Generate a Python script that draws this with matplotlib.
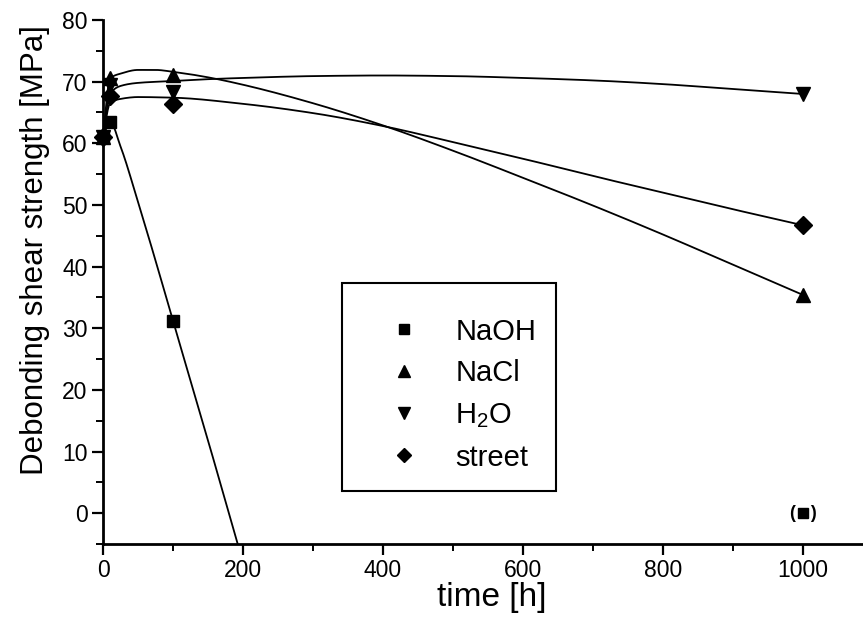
import numpy as np
import matplotlib
matplotlib.use("Agg")
import matplotlib.pyplot as plt
from matplotlib.patches import Rectangle

plt.rcParams['font.family'] = ['Liberation Sans', 'DejaVu Sans']
plt.rcParams['mathtext.fontset'] = 'custom'
plt.rcParams['mathtext.rm'] = 'Liberation Sans'
plt.rcParams['mathtext.it'] = 'Liberation Sans:italic'

# ---- measured data (markers) ----
time_h = [0, 10, 100, 1000]
naoh = [61.0, 63.5, 31.2, 0.0]      # value at 1000 h shown in parentheses
nacl = [61.0, 70.6, 71.1, 35.4]
h2o = [61.0, 69.4, 68.4, 68.0]
street = [61.0, 67.6, 66.3, 46.7]

labels = ['NaOH', 'NaCl', 'H$_2$O', 'street']
markers = ['s', '^', 'v', 'D']

# ---- smooth curves ----
naoh_curve_t = [0, 10, 25, 50, 75, 100, 150, 200]
naoh_curve_v = [61.0, 63.5, 59.5, 50.5, 41.0, 31.2, 11.8, -8.0]
nacl_curve_t = [0, 10, 25, 50, 75, 100, 150, 200, 300, 400, 500, 600, 700, 800, 900, 1000]
nacl_curve_v = [61.0, 70.5, 71.3, 71.9, 71.9, 71.6, 70.7, 69.5, 66.5, 62.9, 58.8, 54.4, 49.9, 45.2, 40.3, 35.4]
h2o_curve_t = [0, 10, 25, 50, 100, 150, 200, 300, 400, 500, 600, 700, 800, 900, 1000]
h2o_curve_v = [61.0, 68.0, 69.3, 69.8, 70.1, 70.4, 70.6, 70.9, 71.0, 70.9, 70.6, 70.2, 69.6, 68.8, 68.0]
street_curve_t = [0, 10, 25, 50, 100, 200, 300, 400, 500, 600, 700, 800, 900, 1000]
street_curve_v = [61.0, 66.5, 67.2, 67.5, 67.4, 66.4, 64.9, 62.8, 60.2, 57.5, 54.7, 52.0, 49.3, 46.7]


def pchip(x, y, xn):
    x = np.asarray(x, float); y = np.asarray(y, float)
    h = np.diff(x); d = np.diff(y) / h
    n = len(x); m = np.zeros(n)
    for k in range(1, n - 1):
        if d[k - 1] * d[k] > 0:
            w1 = 2 * h[k] + h[k - 1]; w2 = h[k] + 2 * h[k - 1]
            m[k] = (w1 + w2) / (w1 / d[k - 1] + w2 / d[k])
    m[0] = d[0]; m[-1] = d[-1]
    idx = np.clip(np.searchsorted(x, xn) - 1, 0, n - 2)
    t = (xn - x[idx]) / h[idx]
    h00 = 2 * t**3 - 3 * t**2 + 1; h10 = t**3 - 2 * t**2 + t
    h01 = -2 * t**3 + 3 * t**2; h11 = t**3 - t**2
    return h00 * y[idx] + h10 * h[idx] * m[idx] + h01 * y[idx + 1] + h11 * h[idx] * m[idx + 1]


W, H = 863, 625
fig = plt.figure(figsize=(W / 100, H / 100), dpi=100)
ax = fig.add_axes([103 / W, (H - 544) / H, 1 - 103 / W, (544 - 20) / H])

curves = [(naoh_curve_t, naoh_curve_v), (nacl_curve_t, nacl_curve_v),
          (h2o_curve_t, h2o_curve_v), (street_curve_t, street_curve_v)]
for ct, cv in curves:
    tt = np.linspace(ct[0], ct[-1], 600)
    ax.plot(tt, pchip(ct, cv, tt), color='black', lw=1.3, zorder=2)

series = [naoh, nacl, h2o, street]
sizes = [9, 10.5, 10.5, 9]
handles = []
for vals, mk, ms, lab in zip(series, markers, sizes, labels):
    if vals is naoh:
        ax.plot(time_h[:3], vals[:3], ls='none', marker=mk, ms=ms, color='black', zorder=3)
        ax.plot(time_h[3], vals[3], ls='none', marker=mk, ms=7, color='black', zorder=3)
        ax.text(time_h[3], vals[3], '(   )', ha='center', va='center', fontsize=13,
                fontweight='bold', zorder=3)
    else:
        ax.plot(time_h, vals, ls='none', marker=mk, ms=ms, color='black', zorder=3, clip_on=False)
    handles.append(plt.Line2D([], [], ls='none', marker=mk, ms=ms * 0.8, color='black'))

ax.set_xlim(0, (W - 103) / 0.7)
ax.set_ylim(-5, 80)
ax.set_xticks([0, 200, 400, 600, 800, 1000])
ax.set_xticks([100, 300, 500, 700, 900], minor=True)
ax.set_yticks(np.arange(0, 81, 10))
ax.set_yticks(np.arange(-5, 80, 10), minor=True)
for s in ['top', 'right']:
    ax.spines[s].set_visible(False)
for s in ['left', 'bottom']:
    ax.spines[s].set_linewidth(2.0)
ax.tick_params(which='major', direction='out', length=8, width=1.6, labelsize=16.5, pad=3)
ax.tick_params(which='minor', direction='out', length=5, width=1.4)

ax.set_xlabel('time [h]', fontsize=24)
ax.xaxis.set_label_coords((492 - 103) / 760, -0.072)
ax.set_ylabel('Debonding shear strength [MPa]', fontsize=22.5)
ax.yaxis.set_label_coords(-0.07, (544 - 250) / 524)

# legend
leg = ax.legend(handles, labels, loc='upper left', frameon=False, fontsize=21,
                handlelength=1.0, handletextpad=1.25, labelspacing=0.47, borderpad=0,
                bbox_to_anchor=((375 - 103) / 760, (544 - 303) / 524))
ax.add_patch(Rectangle(((342 - 103) / 760, (544 - 491) / 524), (556 - 342) / 760,
                       (491 - 283) / 524, transform=ax.transAxes, fill=False,
                       edgecolor='black', lw=1.5, zorder=4))

fig.savefig('out.png', dpi=100)
